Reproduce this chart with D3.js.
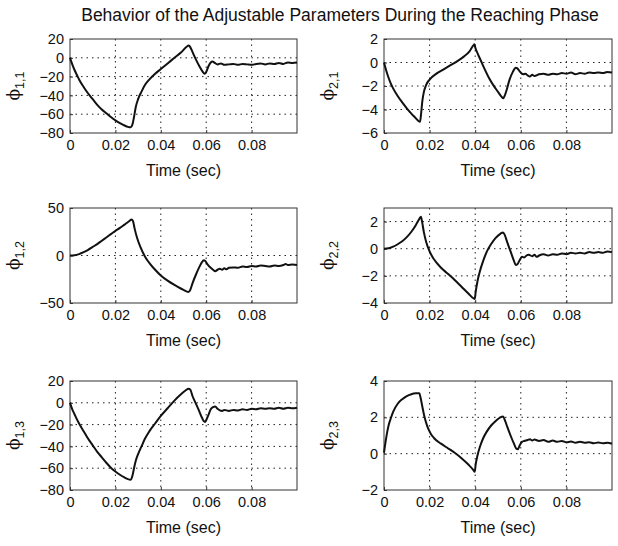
<!DOCTYPE html>
<html>
<head>
<meta charset="utf-8">
<script src="https://cdn.jsdelivr.net/npm/d3@7"></script>
<style>
  body { margin: 0; background: #fff; }
  svg text { font-family: "Liberation Sans", Arial, Helvetica, sans-serif; fill: #111; }
</style>
</head>
<body>
<svg id="drawing_region"></svg>
<script>
// time (sec) / value pairs
const phi11 = [[0,0],[0.001,-7],[0.002,-13],[0.003,-18],[0.004,-23],[0.006,-31],[0.008,-38],[0.010,-44],[0.012,-50],[0.014,-55],[0.016,-59],[0.018,-63],[0.020,-66.5],[0.022,-69.5],[0.024,-72],[0.0255,-73.5],[0.0268,-74],[0.0275,-71],[0.0282,-63],[0.029,-52],[0.030,-44],[0.0315,-36],[0.033,-29],[0.035,-23],[0.0375,-17],[0.040,-12],[0.043,-6],[0.046,0],[0.049,6],[0.0515,12],[0.0522,13],[0.0528,12],[0.054,6],[0.0555,-2],[0.057,-9],[0.0585,-15],[0.0592,-17],[0.060,-15],[0.061,-9],[0.062,-5],[0.0628,-4],[0.0638,-5.5],[0.065,-7],[0.0665,-6],[0.068,-7.5],[0.070,-7],[0.072,-6.5],[0.074,-7.5],[0.076,-6.5],[0.078,-7],[0.080,-7.5],[0.082,-6.5],[0.084,-6],[0.086,-7],[0.088,-6],[0.090,-6.5],[0.092,-5.5],[0.094,-6.5],[0.096,-5],[0.098,-5.5],[0.1,-5]];

const phi21 = [[0,0],[0.001,-0.7],[0.002,-1.3],[0.003,-1.8],[0.004,-2.2],[0.006,-2.85],[0.008,-3.4],[0.010,-3.9],[0.012,-4.35],[0.014,-4.75],[0.0152,-5.0],[0.0158,-5.05],[0.0163,-4.3],[0.0168,-3.3],[0.0175,-2.5],[0.0185,-1.9],[0.020,-1.45],[0.023,-0.95],[0.026,-0.6],[0.029,-0.25],[0.032,0.1],[0.035,0.5],[0.0375,0.95],[0.0392,1.45],[0.0397,1.55],[0.040,1.3],[0.041,0.8],[0.0425,0.15],[0.044,-0.5],[0.046,-1.3],[0.048,-1.95],[0.050,-2.5],[0.0515,-2.9],[0.0523,-3.05],[0.053,-2.8],[0.054,-2.2],[0.055,-1.5],[0.0565,-0.8],[0.0578,-0.45],[0.0585,-0.5],[0.0595,-0.75],[0.061,-1.0],[0.062,-0.95],[0.063,-1.1],[0.064,-1.2],[0.065,-1.05],[0.066,-1.15],[0.068,-1.0],[0.070,-0.95],[0.072,-1.05],[0.074,-0.95],[0.076,-1.0],[0.078,-0.9],[0.080,-0.95],[0.082,-0.85],[0.084,-1.0],[0.086,-0.9],[0.088,-0.95],[0.090,-0.85],[0.092,-0.9],[0.094,-0.85],[0.096,-0.9],[0.098,-0.8],[0.1,-0.85]];

const phi12 = [[0,0],[0.002,0.3],[0.004,1.5],[0.006,3.5],[0.008,6],[0.010,9],[0.012,12],[0.014,15.5],[0.016,19],[0.018,22.5],[0.020,26],[0.022,29],[0.024,32.5],[0.026,36],[0.0272,38],[0.0278,36],[0.0285,28],[0.0295,19],[0.031,9],[0.033,-1],[0.035,-8],[0.0375,-15],[0.040,-21],[0.043,-26.5],[0.046,-31],[0.049,-35],[0.051,-37.5],[0.0522,-38.5],[0.053,-36],[0.054,-29],[0.0555,-20],[0.057,-12],[0.058,-7.5],[0.059,-5],[0.0595,-5.5],[0.0605,-9],[0.062,-13],[0.063,-15],[0.064,-16.5],[0.065,-15],[0.066,-14],[0.067,-15],[0.068,-13.5],[0.069,-14.5],[0.070,-13],[0.072,-12.5],[0.074,-13],[0.076,-11.5],[0.078,-12],[0.080,-11],[0.082,-11.5],[0.084,-10.5],[0.086,-11],[0.088,-11.5],[0.090,-10.5],[0.092,-11],[0.094,-10],[0.095,-9],[0.096,-10],[0.098,-9.5],[0.1,-10]];

const phi22 = [[0,0],[0.002,0.03],[0.004,0.15],[0.006,0.33],[0.008,0.55],[0.010,0.85],[0.012,1.25],[0.014,1.75],[0.0155,2.2],[0.0162,2.35],[0.0168,1.9],[0.0175,1.2],[0.0185,0.5],[0.020,-0.2],[0.022,-0.8],[0.025,-1.4],[0.028,-1.85],[0.031,-2.3],[0.034,-2.8],[0.037,-3.3],[0.0392,-3.65],[0.0398,-3.7],[0.0402,-3.2],[0.041,-2.4],[0.042,-1.7],[0.0435,-0.9],[0.045,-0.25],[0.047,0.35],[0.049,0.8],[0.051,1.1],[0.0522,1.2],[0.053,1.0],[0.054,0.5],[0.0555,-0.2],[0.057,-0.9],[0.0578,-1.2],[0.0585,-1.15],[0.0595,-0.85],[0.0605,-0.6],[0.0615,-0.65],[0.0625,-0.5],[0.0635,-0.45],[0.065,-0.55],[0.066,-0.45],[0.067,-0.6],[0.068,-0.5],[0.070,-0.4],[0.072,-0.5],[0.074,-0.4],[0.076,-0.45],[0.078,-0.35],[0.080,-0.4],[0.082,-0.3],[0.084,-0.35],[0.086,-0.3],[0.088,-0.35],[0.090,-0.25],[0.092,-0.3],[0.094,-0.25],[0.096,-0.3],[0.098,-0.2],[0.1,-0.25]];

const phi13 = [[0,0],[0.001,-6],[0.002,-10.5],[0.003,-15],[0.004,-19],[0.006,-26],[0.008,-33],[0.010,-39],[0.012,-45],[0.014,-50],[0.016,-55],[0.018,-59.5],[0.020,-63],[0.022,-66],[0.024,-68.5],[0.0255,-70],[0.0268,-70.5],[0.0275,-67],[0.0282,-60],[0.029,-53],[0.030,-47],[0.0315,-40],[0.033,-33],[0.035,-26],[0.0375,-19],[0.040,-12],[0.043,-5],[0.046,2],[0.049,8],[0.051,11.5],[0.0522,13],[0.053,12],[0.054,6],[0.0555,-1],[0.057,-8],[0.058,-13],[0.059,-17],[0.0595,-17.5],[0.060,-16],[0.061,-11],[0.062,-6],[0.063,-4],[0.064,-3.5],[0.065,-5.5],[0.066,-7],[0.067,-7.5],[0.068,-6.5],[0.070,-7.5],[0.072,-6.5],[0.074,-7],[0.076,-6],[0.078,-6.5],[0.080,-5.5],[0.082,-6],[0.084,-5],[0.086,-5.5],[0.088,-5],[0.090,-5.5],[0.092,-4.5],[0.094,-5.5],[0.096,-4.5],[0.098,-5],[0.1,-4.5]];

const phi23 = [[0,0.05],[0.0005,0.5],[0.001,0.9],[0.002,1.55],[0.003,1.95],[0.004,2.3],[0.006,2.75],[0.008,3.0],[0.010,3.17],[0.012,3.27],[0.014,3.32],[0.0155,3.33],[0.016,3.1],[0.0168,2.6],[0.0178,2.0],[0.019,1.5],[0.0205,1.1],[0.022,0.85],[0.025,0.55],[0.028,0.3],[0.031,0.05],[0.034,-0.25],[0.037,-0.6],[0.0392,-0.9],[0.0398,-1.0],[0.0402,-0.6],[0.041,-0.1],[0.042,0.35],[0.0435,0.85],[0.045,1.2],[0.047,1.55],[0.049,1.8],[0.051,2.0],[0.0522,2.05],[0.053,1.85],[0.054,1.5],[0.0555,1.0],[0.057,0.55],[0.058,0.28],[0.0587,0.25],[0.0595,0.45],[0.0605,0.65],[0.0615,0.7],[0.063,0.75],[0.064,0.8],[0.065,0.72],[0.066,0.78],[0.068,0.7],[0.070,0.75],[0.072,0.65],[0.074,0.72],[0.076,0.65],[0.078,0.7],[0.080,0.62],[0.082,0.67],[0.084,0.6],[0.086,0.65],[0.088,0.6],[0.090,0.63],[0.092,0.57],[0.094,0.62],[0.096,0.57],[0.098,0.6],[0.1,0.55]];

const xTicks = [0, 0.02, 0.04, 0.06, 0.08];
const xTickLabels = ["0", "0.02", "0.04", "0.06", "0.08"];
const yTicks11 = [-80, -60, -40, -20, 0, 20];
const yTicks21 = [-6, -4, -2, 0, 2];
const yTicks12 = [-50, 0, 50];
const yTicks22 = [-4, -2, 0, 2];
const yTicks13 = [-80, -60, -40, -20, 0, 20];
const yTicks23 = [-2, 0, 2, 4];
const subLabels = ["1,1", "2,1", "1,2", "2,2", "1,3", "2,3"];

const title = "Behavior of the Adjustable Parameters During the Reaching Phase";
const xLabel = "Time (sec)";

const svg = d3.select('#drawing_region')
    .attr('width', 618)
    .attr('height', 546);

svg.append('text')
    .attr('x', 340)
    .attr('y', 21)
    .attr('text-anchor', 'middle')
    .attr('font-size', 17.5)
    .text(title);

// pixel frames of the six axes
const cols = [[70, 297], [384, 612]];
const rows = [[39, 133], [208, 303], [381, 490]];

const panels = [
    { data: phi11, ydom: [-80, 20], ticks: yTicks11, sub: subLabels[0], col: 0, row: 0 },
    { data: phi21, ydom: [-6, 2], ticks: yTicks21, sub: subLabels[1], col: 1, row: 0 },
    { data: phi12, ydom: [-50, 50], ticks: yTicks12, sub: subLabels[2], col: 0, row: 1 },
    { data: phi22, ydom: [-4, 3], ticks: yTicks22, sub: subLabels[3], col: 1, row: 1 },
    { data: phi13, ydom: [-80, 20], ticks: yTicks13, sub: subLabels[4], col: 0, row: 2 },
    { data: phi23, ydom: [-2, 4], ticks: yTicks23, sub: subLabels[5], col: 1, row: 2 }
];

panels.forEach(p => {
    const [x0, x1] = cols[p.col];
    const [y0, y1] = rows[p.row];
    const w = x1 - x0, h = y1 - y0;

    const g = svg.append('g').attr('transform', `translate(${x0}, ${y0})`);

    const xscale = d3.scaleLinear().domain([0, 0.1]).range([0, w]);
    const yscale = d3.scaleLinear().domain(p.ydom).range([h, 0]);

    // grid
    g.selectAll('.vgrid')
        .data(xTicks.filter(t => t > 0))
        .enter()
        .append('line')
        .attr('x1', d => xscale(d)).attr('x2', d => xscale(d))
        .attr('y1', 0).attr('y2', h)
        .attr('stroke', '#222')
        .attr('stroke-width', 1)
        .attr('stroke-dasharray', '1.5,4');
    g.selectAll('.hgrid')
        .data(p.ticks.filter(t => t > p.ydom[0] && t < p.ydom[1]))
        .enter()
        .append('line')
        .attr('x1', 0).attr('x2', w)
        .attr('y1', d => yscale(d)).attr('y2', d => yscale(d))
        .attr('stroke', '#222')
        .attr('stroke-width', 1)
        .attr('stroke-dasharray', '1.5,4');

    const xaxis = d3.axisBottom(xscale)
        .tickValues(xTicks)
        .tickFormat((d, i) => xTickLabels[i])
        .tickSizeInner(-3).tickSizeOuter(0)
        .tickPadding(7);
    const yaxis = d3.axisLeft(yscale)
        .tickValues(p.ticks)
        .tickFormat(d => d < 0 ? '\u2212' + Math.abs(d) : d)
        .tickSizeInner(-3).tickSizeOuter(0)
        .tickPadding(6);

    const xg = g.append('g').attr('transform', `translate(0, ${h})`).call(xaxis);
    const yg = g.append('g').call(yaxis);
    [xg, yg].forEach(a => {
        a.select('.domain').remove();
        a.selectAll('line').attr('stroke', '#333');
        a.selectAll('text')
            .attr('font-size', 14.5)
            .attr('font-family', '"Liberation Sans", Arial, sans-serif')
            .attr('fill', '#111');
    });

    g.append('rect')
        .attr('width', w).attr('height', h)
        .attr('fill', 'none')
        .attr('stroke', '#333')
        .attr('stroke-width', 1);

    const line = d3.line()
        .x(d => xscale(d[0]))
        .y(d => yscale(d[1]))
        .curve(d3.curveMonotoneX);

    g.append('path')
        .datum(p.data)
        .attr('d', line)
        .attr('fill', 'none')
        .attr('stroke', '#111')
        .attr('stroke-width', 2);

    g.append('text')
        .attr('x', w / 2)
        .attr('y', h + 43)
        .attr('text-anchor', 'middle')
        .attr('font-size', 16)
        .text(xLabel);

    const yl = g.append('text')
        .attr('transform', `translate(-51, ${h / 2}) rotate(-90)`)
        .attr('text-anchor', 'middle')
        .attr('font-size', 17);
    yl.append('tspan')
        .attr('font-family', '"DejaVu Serif", serif')
        .text('\u03D5');
    yl.append('tspan')
        .attr('font-size', 12.5)
        .attr('dy', 5)
        .text(p.sub);
});
</script>
</body>
</html>
